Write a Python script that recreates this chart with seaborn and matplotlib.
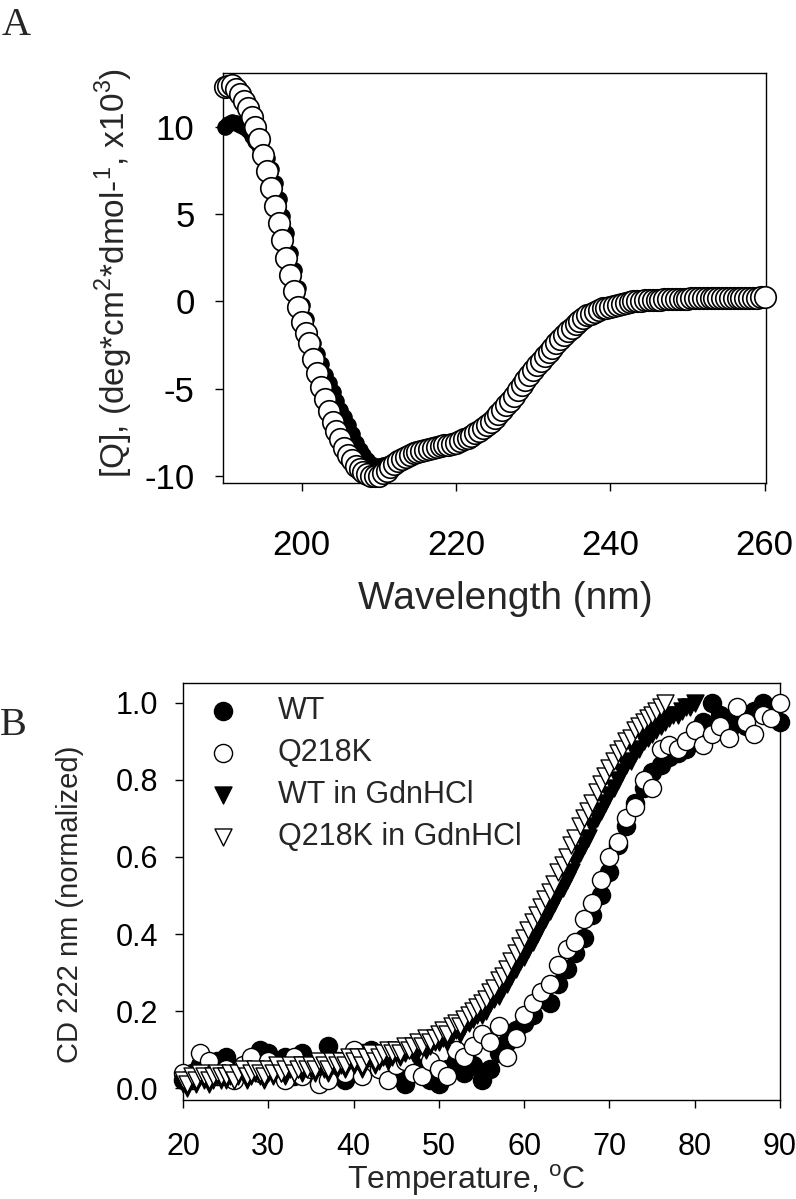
import numpy as np
import seaborn as sns
import matplotlib.pyplot as plt

# ---- Panel A: far-UV CD spectra (0.5 nm steps) ----
wavelength = list(np.arange(190, 260.5, 0.5))
wt_spectrum = [10.0, 10.2, 10.3, 10.25, 10.1, 10.0, 9.8, 9.5, 9.2, 8.9,
               8.6, 8.2, 7.6, 6.8, 5.9, 4.9, 3.9, 2.8, 1.8, 0.8,
               -0.2, -1.0, -1.8, -2.4, -3.0, -3.6, -4.2, -4.7, -5.2, -5.7,
               -6.2, -6.6, -7.1, -7.6, -8.1, -8.5, -8.8, -9.1, -9.3, -9.4,
               -9.4, -9.35, -9.3, -9.25, -9.2, -9.1, -9.0, -8.9, -8.8, -8.7,
               -8.6, -8.55, -8.5, -8.45, -8.4, -8.35, -8.3, -8.25, -8.2, -8.1,
               -8.0, -7.9, -7.8, -7.7, -7.6, -7.45, -7.3, -7.15, -7.0, -6.8,
               -6.6, -6.35, -6.1, -5.85, -5.6, -5.3, -5.0, -4.7, -4.4, -4.1,
               -3.8, -3.55, -3.3, -3.05, -2.8, -2.55, -2.3, -2.05, -1.8, -1.6,
               -1.4, -1.2, -1.0, -0.85, -0.7, -0.6, -0.5, -0.4, -0.3, -0.25,
               -0.2, -0.15, -0.1, -0.05, 0.0, 0.03, 0.05, 0.08, 0.1, 0.11,
               0.12, 0.14, 0.15, 0.16, 0.17, 0.18, 0.18, 0.19, 0.2, 0.21,
               0.22, 0.23, 0.24, 0.26, 0.27, 0.28, 0.28, 0.27, 0.26, 0.25,
               0.24, 0.24, 0.25, 0.26, 0.27, 0.29, 0.3, 0.31, 0.32, 0.33,
               0.33]
q218k_spectrum = [12.3, 12.35, 12.4, 12.2, 11.9, 11.5, 11.1, 10.6, 10.0, 9.3,
                  8.4, 7.5, 6.5, 5.5, 4.5, 3.5, 2.5, 1.5, 0.6, -0.3,
                  -1.2, -1.8, -2.4, -3.3, -4.1, -4.9, -5.6, -6.3, -6.9, -7.4,
                  -7.9, -8.4, -8.8, -9.1, -9.4, -9.6, -9.8, -9.9, -10.0, -10.0,
                  -10.0, -9.85, -9.7, -9.5, -9.3, -9.15, -9.0, -8.9, -8.8, -8.7,
                  -8.6, -8.55, -8.5, -8.45, -8.4, -8.35, -8.3, -8.25, -8.2, -8.15,
                  -8.1, -8.0, -7.9, -7.8, -7.7, -7.55, -7.4, -7.25, -7.1, -6.9,
                  -6.7, -6.45, -6.2, -5.95, -5.7, -5.4, -5.1, -4.8, -4.5, -4.2,
                  -3.9, -3.65, -3.4, -3.15, -2.9, -2.65, -2.4, -2.15, -1.9, -1.7,
                  -1.5, -1.3, -1.1, -0.95, -0.8, -0.7, -0.6, -0.5, -0.4, -0.35,
                  -0.3, -0.25, -0.2, -0.15, -0.1, -0.05, 0.0, 0.03, 0.05, 0.07,
                  0.08, 0.09, 0.1, 0.11, 0.12, 0.12, 0.13, 0.14, 0.15, 0.16,
                  0.17, 0.18, 0.2, 0.21, 0.22, 0.21, 0.2, 0.19, 0.18, 0.19,
                  0.2, 0.21, 0.22, 0.22, 0.22, 0.21, 0.2, 0.21, 0.22, 0.23,
                  0.25]

# ---- Panel B: thermal melts at 222 nm ----
temp_native = list(range(20, 91))
wt_melt = [0.02, 0.04, 0.06, 0.03, 0.07, 0.08, 0.05, 0.04, 0.07, 0.10,
           0.09, 0.06, 0.08, 0.03, 0.09, 0.05, 0.06, 0.11, 0.07, 0.02,
           0.05, 0.09, 0.10, 0.06, 0.08, 0.04, 0.01, 0.06, 0.05, 0.02,
           0.01, 0.05, 0.07, 0.04, 0.06, 0.02, 0.05, 0.09, 0.12, 0.15,
           0.17, 0.19, 0.23, 0.22, 0.27, 0.31, 0.35, 0.39, 0.45, 0.50,
           0.56, 0.63, 0.68, 0.74, 0.78, 0.82, 0.84, 0.86, 0.87, 0.88,
           0.92, 0.95, 1.00, 0.97, 0.93, 0.96, 0.94, 0.98, 1.00, 0.97,
           0.95]
q218k_melt = [0.04, 0.02, 0.09, 0.07, 0.03, 0.05, 0.02, 0.06, 0.08, 0.04,
              0.07, 0.05, 0.02, 0.08, 0.03, 0.05, 0.01, 0.02, 0.06, 0.04,
              0.10, 0.03, 0.08, 0.05, 0.02, 0.06, 0.07, 0.04, 0.03, 0.07,
              0.05, 0.03, 0.10, 0.08, 0.11, 0.14, 0.12, 0.16, 0.08, 0.13,
              0.19, 0.22, 0.25, 0.27, 0.32, 0.36, 0.38, 0.44, 0.48, 0.54,
              0.60, 0.64, 0.70, 0.73, 0.80, 0.78, 0.88, 0.89, 0.88, 0.90,
              0.93, 0.89, 0.92, 0.94, 0.91, 0.99, 0.95, 0.92, 0.97, 0.96,
              1.00]
temp_wt_gdn = list(np.arange(20, 80.5, 0.5))
wt_gdn_melt = [0.01, 0.00, 0.02, 0.01, 0.03, 0.02, 0.01, 0.02, 0.03, 0.02,
               0.02, 0.03, 0.02, 0.03, 0.04, 0.02, 0.03, 0.04, 0.03, 0.02,
               0.04, 0.03, 0.05, 0.04, 0.03, 0.05, 0.04, 0.05, 0.04, 0.06,
               0.05, 0.04, 0.06, 0.05, 0.04, 0.06, 0.05, 0.06, 0.05, 0.07,
               0.06, 0.07, 0.05, 0.07, 0.08, 0.06, 0.07, 0.08, 0.07, 0.08,
               0.09, 0.08, 0.09, 0.10, 0.09, 0.10, 0.11, 0.10, 0.11, 0.12,
               0.12, 0.13, 0.12, 0.14, 0.15, 0.14, 0.16, 0.17, 0.18, 0.19,
               0.19, 0.20, 0.22, 0.23, 0.24, 0.26, 0.27, 0.29, 0.31, 0.33,
               0.34, 0.36, 0.38, 0.40, 0.42, 0.44, 0.46, 0.48, 0.50, 0.52,
               0.54, 0.56, 0.59, 0.61, 0.63, 0.65, 0.68, 0.70, 0.72, 0.74,
               0.76, 0.78, 0.80, 0.82, 0.84, 0.85, 0.87, 0.88, 0.90, 0.91,
               0.92, 0.93, 0.94, 0.95, 0.96, 0.97, 0.97, 0.98, 0.99, 0.99,
               1.00]
temp_q218k_gdn = list(np.arange(20, 77.0, 0.5))
q218k_gdn_melt = [0.02, 0.01, 0.03, 0.02, 0.04, 0.03, 0.02, 0.03, 0.04, 0.03,
                  0.03, 0.04, 0.02, 0.04, 0.05, 0.03, 0.04, 0.05, 0.04, 0.03,
                  0.05, 0.04, 0.06, 0.04, 0.05, 0.06, 0.04, 0.05, 0.06, 0.05,
                  0.06, 0.05, 0.07, 0.06, 0.05, 0.07, 0.06, 0.07, 0.06, 0.08,
                  0.07, 0.08, 0.06, 0.08, 0.09, 0.07, 0.08, 0.09, 0.10, 0.09,
                  0.10, 0.09, 0.11, 0.10, 0.11, 0.12, 0.11, 0.13, 0.12, 0.13,
                  0.14, 0.15, 0.14, 0.16, 0.17, 0.16, 0.18, 0.19, 0.20, 0.21,
                  0.22, 0.23, 0.25, 0.26, 0.28, 0.29, 0.31, 0.33, 0.35, 0.37,
                  0.39, 0.41, 0.43, 0.45, 0.47, 0.49, 0.51, 0.53, 0.56, 0.58,
                  0.60, 0.63, 0.65, 0.68, 0.70, 0.72, 0.74, 0.77, 0.79, 0.81,
                  0.83, 0.85, 0.87, 0.88, 0.90, 0.91, 0.93, 0.94, 0.95, 0.96,
                  0.97, 0.98, 0.99, 1.00]


def draw_series(ax, x, y, marker, size, filled, label=None, lw=1.0):
    sns.scatterplot(x=x, y=y, marker=marker, s=size,
                    color='black' if filled else 'white', edgecolor='black',
                    linewidth=lw, clip_on=False, zorder=3, label=label, ax=ax)


def style_axes(ax, fontsize, xpad, ypad, ticklen):
    for side in ['left', 'right', 'top', 'bottom']:
        ax.spines[side].set_visible(True)
        ax.spines[side].set_linewidth(1.0)
        ax.spines[side].set_color('black')
    ax.tick_params(axis='both', direction='out', length=ticklen, width=1.0,
                   labelsize=fontsize, colors='black')
    ax.tick_params(axis='x', pad=xpad)
    ax.tick_params(axis='y', pad=ypad)


sns.set_style("ticks")
plt.rcParams['font.family'] = ['Liberation Sans', 'DejaVu Sans']
plt.rcParams['axes.unicode_minus'] = False
plt.rcParams['mathtext.fontset'] = 'custom'
plt.rcParams['mathtext.rm'] = 'Liberation Sans'

fig = plt.figure(figsize=(7.96, 11.99), dpi=100)

# ---- Panel A ----
ax_a = fig.add_axes([0.2802, 0.5972, 0.6822, 0.3420])
draw_series(ax_a, wavelength, wt_spectrum, 'o', 120, True)
draw_series(ax_a, wavelength, q218k_spectrum, 'o', 240, False, lw=1.2)
ax_a.set_xlim(189.8, 260.2)
ax_a.set_ylim(-10.4, 13.1)
ax_a.set_xticks([200, 220, 240, 260])
ax_a.set_yticks([-10, -5, 0, 5, 10])
style_axes(ax_a, 25, 28, 15, 5.5)
ax_a.set_xlabel('Wavelength (nm)', fontsize=28)
ax_a.set_ylabel(r'[Q], (deg*cm$^{\mathregular{2}}$*dmol-$^{\mathregular{1}}$, x10$^{\mathregular{3}}$)',
                fontsize=24)
ax_a.xaxis.set_label_coords(0.52, -0.24)
ax_a.yaxis.set_label_coords(-0.162, 0.513)

# ---- Panel B ----
ax_b = fig.add_axes([0.2299, 0.0826, 0.7500, 0.3478])
draw_series(ax_b, temp_native, wt_melt, 'o', 170, True, 'WT')
draw_series(ax_b, temp_native, q218k_melt, 'o', 170, False, 'Q218K')
draw_series(ax_b, temp_wt_gdn, wt_gdn_melt, 'v', 150, True, 'WT in GdnHCl')
draw_series(ax_b, temp_q218k_gdn, q218k_gdn_melt, 'v', 150, False, 'Q218K in GdnHCl')
ax_b.set_xlim(20, 90)
ax_b.set_ylim(-0.031, 1.052)
ax_b.set_xticks([20, 30, 40, 50, 60, 70, 80, 90])
ax_b.set_yticks([0.0, 0.2, 0.4, 0.6, 0.8, 1.0])
ax_b.set_yticklabels(['0.0', '0.2', '0.4', '0.6', '0.8', '1.0'])
style_axes(ax_b, 22, 17, 12, 6)
ax_b.set_xlabel(r'Temperature, $^{\mathregular{o}}$C', fontsize=23)
ax_b.xaxis.label.set_va('baseline')
ax_b.set_ylabel('CD 222 nm (normalized)', fontsize=21)
ax_b.xaxis.set_label_coords(0.474, -0.2134)
ax_b.yaxis.set_label_coords(-0.166, 0.468)
ax_b.legend(loc='upper left', bbox_to_anchor=(0.041, 0.969), frameon=False,
            fontsize=22, handlelength=1.0, handletextpad=1.3, labelspacing=0.39,
            borderaxespad=0, borderpad=0)

# panel letters
fig.text(0.002, 1 - 35 / 1199, 'A', family='Liberation Serif', fontsize=29, va='baseline')
fig.text(0.0, 1 - 735 / 1199, 'B', family='Liberation Serif', fontsize=29, va='baseline')

fig.savefig('out.png', dpi=100)
